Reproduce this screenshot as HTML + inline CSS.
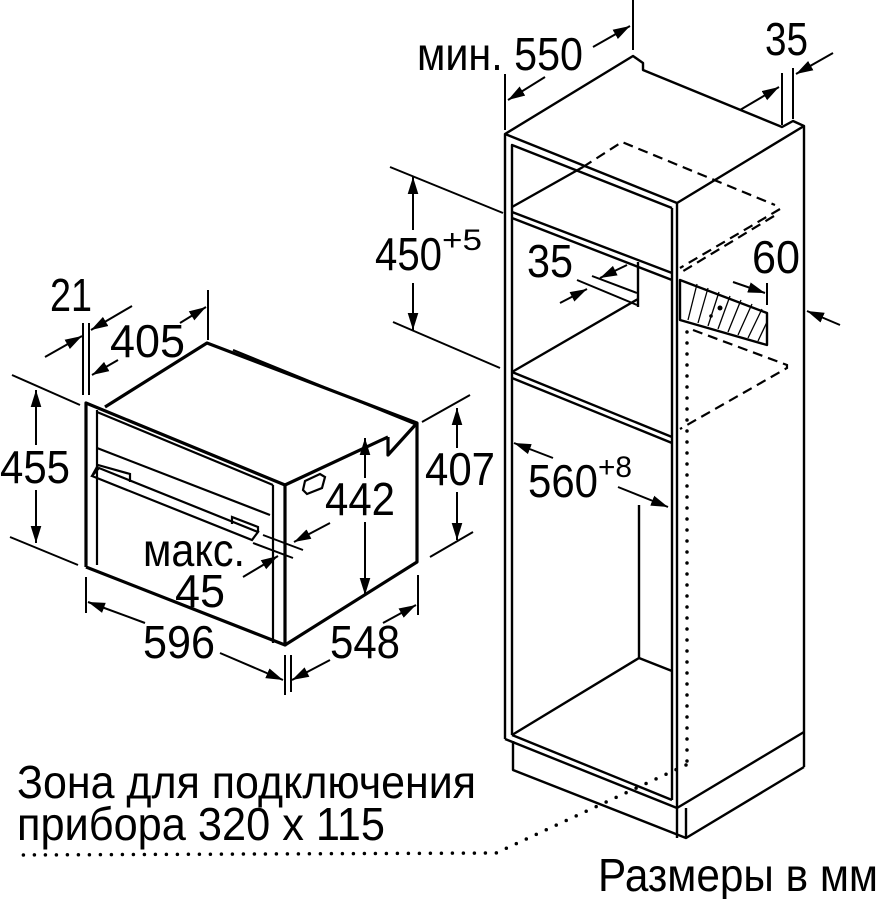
<!DOCTYPE html>
<html><head><meta charset="utf-8"><style>
html,body{margin:0;padding:0;background:#fff;}
svg{display:block}
text{font-family:"Liberation Sans",sans-serif;fill:#000}
</style></head><body>
<svg width="879" height="899" viewBox="0 0 879 899" xmlns="http://www.w3.org/2000/svg">
<defs>
<marker id="a" viewBox="0 0 16 10" refX="16" refY="5" markerWidth="17" markerHeight="11" markerUnits="userSpaceOnUse" orient="auto"><path d="M0,0 L16,5 L0,10 z" fill="#000"/></marker>
</defs>
<g stroke="#000" fill="none" stroke-width="2.4" stroke-linejoin="round">
<!-- CABINET -->
<polyline points="505,739 505,134 633,56 643,63 643,70 782,127 793,121 804,126 804,767"/>
<line x1="505" y1="134" x2="677" y2="203"/>
<line x1="677" y1="203" x2="804" y2="126"/>
<line x1="677" y1="203" x2="677" y2="838"/>
<line x1="672" y1="208" x2="672" y2="800"/>
<polyline points="512,735 512,145 672,208"/>
<line x1="505" y1="739" x2="677" y2="808"/>
<line x1="512" y1="735" x2="672" y2="800"/>
<line x1="677" y1="808" x2="804" y2="732"/>
<polyline points="513,741 513,770 686,838 804,767"/>
<line x1="686" y1="808" x2="686" y2="838"/>
<line x1="512" y1="212" x2="672" y2="273"/>
<line x1="512" y1="218" x2="672" y2="280"/>
<line x1="512" y1="207" x2="583" y2="167"/>
<line x1="512" y1="372" x2="672" y2="437"/>
<line x1="512" y1="378" x2="672" y2="443"/>
<line x1="512" y1="372" x2="638" y2="299"/>
<line x1="638" y1="262" x2="638" y2="307"/>
<line x1="639" y1="505" x2="639" y2="658"/>
<line x1="639" y1="658" x2="672" y2="671"/>
<line x1="639" y1="658" x2="512" y2="735"/>
<polygon points="680,280 767,313 767,345 680,320"/>
</g>
<g stroke="#000" stroke-width="1.3">
<line x1="688" y1="320" x2="697" y2="284"/><line x1="698" y1="323" x2="708" y2="288"/><line x1="708" y1="326" x2="719" y2="292"/><line x1="718" y1="329" x2="730" y2="296"/><line x1="728" y1="332" x2="741" y2="300"/><line x1="738" y1="335" x2="752" y2="304"/><line x1="748" y1="338" x2="762" y2="309"/><line x1="758" y1="341" x2="767" y2="322"/>
</g>
<circle cx="720" cy="308" r="2.5"/><circle cx="711" cy="316" r="1.8"/>
<g stroke="#000" fill="none" stroke-width="2.2" stroke-dasharray="10,6">
<polyline points="583,167 622,142 775,205"/>
<line x1="780" y1="209" x2="680" y2="268"/>
<line x1="774" y1="216" x2="680" y2="273"/>
<polyline points="693,330 787,365 787,368 680,429"/>
</g>
<g stroke="#000" fill="none" stroke-width="3.5" stroke-linecap="round" stroke-dasharray="0,11">
<line x1="687" y1="332" x2="687" y2="762"/>
<polyline points="686,765 496,853 15,855"/>
</g>
<!-- OVEN -->
<g stroke="#000" fill="none" stroke-width="3.2" stroke-linejoin="round">
<polyline points="86,567 86,403 285,485 285,645 86,567"/>
<polyline points="105,407 207,343 417,423 417,562 285,645"/>
<line x1="285" y1="485" x2="388" y2="437"/>
<polyline points="388,437 388,455 417,423"/>
</g>
<g stroke="#000" fill="none" stroke-width="2.2">
<line x1="97" y1="410" x2="97" y2="565"/>
<line x1="97" y1="412" x2="273" y2="485"/>
<line x1="273" y1="485" x2="273" y2="643"/>
<line x1="97" y1="448" x2="270" y2="515"/>
<line x1="233" y1="350" x2="417" y2="425"/>
<polyline points="92,476 98,465 130,474 130,482"/>
<polygon points="92,476 252,540 258,532 99,468"/>
<polyline points="232,524 232,517 258,527 258,532"/>
<path d="M303,490 L305,481 L320,474 L325,477 L322,488 L307,494 z"/>
</g>
<g stroke="#000" fill="none" stroke-width="2">
<line x1="505" y1="74" x2="505" y2="130"/>
<line x1="633" y1="0" x2="633" y2="50"/>
<line x1="545" y1="77" x2="508" y2="100" marker-end="url(#a)"/>
<line x1="593" y1="47" x2="630" y2="26" marker-end="url(#a)"/>
<line x1="782" y1="73" x2="782" y2="125"/>
<line x1="793" y1="68" x2="793" y2="119"/>
<line x1="833" y1="53" x2="796" y2="74" marker-end="url(#a)"/>
<line x1="740" y1="110" x2="779" y2="87" marker-end="url(#a)"/>
<line x1="390" y1="167" x2="503" y2="213"/>
<line x1="393" y1="322" x2="500" y2="368"/>
<line x1="413" y1="230" x2="413" y2="177" marker-end="url(#a)"/>
<line x1="413" y1="283" x2="413" y2="330" marker-end="url(#a)"/>
<line x1="592" y1="276" x2="637" y2="293"/>
<line x1="577" y1="280" x2="637" y2="305"/>
<line x1="627" y1="265" x2="600" y2="278" marker-end="url(#a)"/>
<line x1="560" y1="303" x2="587" y2="289" marker-end="url(#a)"/>
<line x1="767" y1="283" x2="767" y2="305"/>
<line x1="733" y1="282" x2="765" y2="293" marker-end="url(#a)"/>
<line x1="840" y1="325" x2="807" y2="311" marker-end="url(#a)"/>
<line x1="553" y1="458" x2="514" y2="443" marker-end="url(#a)"/>
<line x1="618" y1="487" x2="668" y2="507" marker-end="url(#a)"/>
<line x1="83" y1="323" x2="83" y2="395"/>
<line x1="89" y1="323" x2="89" y2="395"/>
<line x1="45" y1="357" x2="82" y2="336" marker-end="url(#a)"/>
<line x1="132" y1="306" x2="91" y2="330" marker-end="url(#a)"/>
<line x1="208" y1="290" x2="208" y2="340"/>
<line x1="180" y1="323" x2="206" y2="307" marker-end="url(#a)"/>
<line x1="118" y1="360" x2="92" y2="375" marker-end="url(#a)"/>
<line x1="12" y1="375" x2="80" y2="405"/>
<line x1="10" y1="537" x2="78" y2="565"/>
<line x1="36" y1="445" x2="36" y2="390" marker-end="url(#a)"/>
<line x1="36" y1="490" x2="36" y2="543" marker-end="url(#a)"/>
<line x1="422" y1="422" x2="470" y2="395"/>
<line x1="430" y1="557" x2="473" y2="532"/>
<line x1="457" y1="448" x2="457" y2="408" marker-end="url(#a)"/>
<line x1="457" y1="492" x2="457" y2="540" marker-end="url(#a)"/>
<line x1="365" y1="478" x2="365" y2="438" marker-end="url(#a)"/>
<line x1="365" y1="522" x2="365" y2="595" marker-end="url(#a)"/>
<line x1="263" y1="535" x2="303" y2="550"/>
<line x1="253" y1="543" x2="293" y2="558"/>
<line x1="330" y1="523" x2="294" y2="542" marker-end="url(#a)"/>
<line x1="243" y1="577" x2="278" y2="556" marker-end="url(#a)"/>
<line x1="86" y1="577" x2="86" y2="613"/>
<line x1="285" y1="655" x2="285" y2="695"/>
<line x1="145" y1="623" x2="88" y2="602" marker-end="url(#a)"/>
<line x1="220" y1="653" x2="283" y2="680" marker-end="url(#a)"/>
<line x1="291" y1="655" x2="291" y2="692"/>
<line x1="418" y1="575" x2="418" y2="615"/>
<line x1="330" y1="660" x2="292" y2="680" marker-end="url(#a)"/>
<line x1="383" y1="623" x2="416" y2="605" marker-end="url(#a)"/>
</g>
<g font-size="46">
<text x="417" y="70" textLength="166" lengthAdjust="spacingAndGlyphs">мин. 550</text>
<text x="765" y="55" textLength="43" lengthAdjust="spacingAndGlyphs">35</text>
<text x="375" y="270" textLength="67" lengthAdjust="spacingAndGlyphs">450</text>
<text x="442" y="250" font-size="30" textLength="40" lengthAdjust="spacingAndGlyphs">+5</text>
<text x="527" y="277" textLength="46" lengthAdjust="spacingAndGlyphs">35</text>
<text x="752" y="273" textLength="48" lengthAdjust="spacingAndGlyphs">60</text>
<text x="528" y="497" textLength="70" lengthAdjust="spacingAndGlyphs">560</text>
<text x="598" y="477" font-size="30" textLength="34" lengthAdjust="spacingAndGlyphs">+8</text>
<text x="50" y="311" textLength="42" lengthAdjust="spacingAndGlyphs">21</text>
<text x="110" y="357" textLength="75" lengthAdjust="spacingAndGlyphs">405</text>
<text x="0" y="483" textLength="70" lengthAdjust="spacingAndGlyphs">455</text>
<text x="425" y="485" textLength="70" lengthAdjust="spacingAndGlyphs">407</text>
<text x="325" y="515" textLength="70" lengthAdjust="spacingAndGlyphs">442</text>
<text x="143" y="566" textLength="102" lengthAdjust="spacingAndGlyphs">макс.</text>
<text x="175" y="607" textLength="50" lengthAdjust="spacingAndGlyphs">45</text>
<text x="143" y="658" textLength="72" lengthAdjust="spacingAndGlyphs">596</text>
<text x="330" y="658" textLength="70" lengthAdjust="spacingAndGlyphs">548</text>
</g>
<g font-size="46">
<text x="17" y="798" textLength="459" lengthAdjust="spacingAndGlyphs">Зона для подключения</text>
<text x="17" y="840" textLength="368" lengthAdjust="spacingAndGlyphs">прибора 320 x 115</text>
<text x="598" y="891" textLength="280" lengthAdjust="spacingAndGlyphs">Размеры в мм</text>
</g>
</svg>
</body></html>
